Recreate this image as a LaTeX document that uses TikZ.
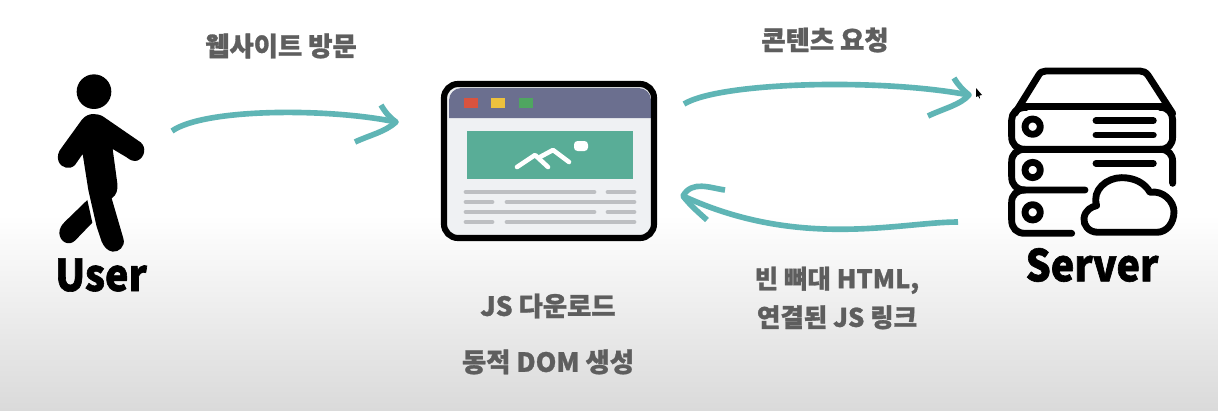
\documentclass[tikz,border=0pt]{standalone}
\usepackage{fontspec}
\setmainfont{Noto Sans CJK KR}
\newfontfamily\labelfont[BoldFeatures={FakeBold=1.1}]{Noto Sans CJK KR}
\newfontfamily\iconfont[BoldFeatures={FakeBold=1.4,FakeStretch=0.9}]{Noto Sans CJK KR}
\definecolor{flowteal}{HTML}{5FB5B5}
\definecolor{labelgrey}{HTML}{5E5E5E}
\definecolor{floorgrey}{HTML}{DADADA}
\definecolor{pagegrey}{HTML}{EFF1F3}
\definecolor{barslate}{HTML}{6B6F8F}
\definecolor{btnred}{HTML}{D9533F}
\definecolor{btnyellow}{HTML}{EDC13D}
\definecolor{btngreen}{HTML}{4FA660}
\definecolor{picgreen}{HTML}{59AD97}
\definecolor{rowgrey}{HTML}{BDBFC2}
\tikzset{
  flow/.style={draw=flowteal, line width=3.2pt, line join=round},
  step label/.style={text=labelgrey, font=\labelfont\bfseries\fontsize{15}{17}\selectfont, align=center},
  html label/.style={text=labelgrey, font=\labelfont\bfseries\fontsize{14.5}{16}\selectfont, align=center},
  icon label/.style={text=black, font=\iconfont\bfseries\fontsize{25}{28}\selectfont},
  row/.style={draw=rowgrey, line width=2.7pt, line cap=round},
  rack/.style={draw=black, line width=3.9pt, line cap=round, line join=round},
}

\begin{document}
\begin{tikzpicture}[x=0.02cm, y=-0.02cm]

            \useasboundingbox (0,0) rectangle (1218,410);
            \fill[white] (0,0) rectangle (1218,215);
            \fill[top color=white, bottom color=floorgrey] (0,215) rectangle (1218,410);

            % walking user
            \begin{scope}[shift={(30,50)}, scale=0.3333]
            \fill[black] (192,125) circle [radius=52];
            \fill[black] (190,192) .. controls (200,192) and (210,194) .. (220,200) -- (332,277)
                .. controls (350,292) and (345,322) .. (322,332) .. controls (310,335) and (300,330) .. (290,322)
                -- (248,297) -- (262,400) .. controls (264,420) and (260,435) .. (245,445)
                -- (280,565) .. controls (288,590) and (265,607) .. (248,605) .. controls (232,603) and (222,590) .. (215,575)
                -- (200,530) -- (175,420) -- (158,312) -- (135,345)
                .. controls (120,360) and (95,355) .. (86,335) .. controls (80,320) and (85,305) .. (95,293)
                -- (155,210) .. controls (165,197) and (178,192) .. (190,192) -- cycle;
            \fill[black] (172,450) -- (187,518) -- (135,572) .. controls (115,590) and (90,575) .. (88,550)
                .. controls (88,535) and (95,525) .. (105,515) -- cycle;
            \end{scope}

            % browser window
            \fill[pagegrey, rounded corners=8pt] (444,84) rectangle (654,238);
            \fill[barslate] (449,118) [rounded corners=7pt] -- (449,88) -- (651,88) [sharp corners] -- (651,118) -- cycle;
            \fill[btnred] (464,98) rectangle (478,108);
            \fill[btnyellow] (491,98) rectangle (505,108);
            \fill[btngreen] (519,98) rectangle (533,108);
            \fill[picgreen] (467,131) rectangle (633,179);
            \draw[white, line width=2.6pt, line cap=round, line join=round] (517,167) -- (535,155) -- (548,167);
            \draw[white, line width=2.6pt, line cap=round, line join=round] (540,157) -- (553,150) -- (569,162);
            \fill[white, rounded corners=2pt] (574,141) rectangle (588,151);
            \draw[row] (466,192) -- (594,192);
            \draw[row] (608,192) -- (634,192);
            \draw[row] (466,202) -- (492,202);
            \draw[row] (507,202) -- (634,202);
            \draw[row] (466,212) -- (594,212);
            \draw[row] (608,212) -- (634,212);
            \draw[row] (466,222) -- (492,222);
            \draw[row] (507,222) -- (634,222);
            \draw[black, line width=3.5pt, rounded corners=8pt] (444,84) rectangle (654,238);

            % server rack
            \begin{scope}[shift={(990,55)}, scale=0.3333]
            \draw[rack] (75,175) -- (145,62) .. controls (150,52) and (158,48) .. (168,48) -- (450,48)
                .. controls (460,48) and (468,52) .. (475,62) -- (548,175);
            \draw[rack, rounded corners=5pt] (100,155) -- (515,155);
            \draw[rack] (110,157) .. controls (80,157) and (65,175) .. (65,195) -- (65,245)
                .. controls (65,268) and (80,283) .. (105,283) -- (510,283)
                .. controls (535,283) and (548,268) .. (548,245) -- (548,195) .. controls (548,175) and (535,157) .. (510,157);
            \draw[rack] (105,283) .. controls (80,283) and (65,298) .. (65,320) -- (65,365)
                .. controls (65,390) and (80,405) .. (105,405) -- (285,405);
            \draw[rack] (510,283) .. controls (535,283) and (548,298) .. (548,320) -- (548,385);
            \draw[rack] (105,405) .. controls (80,405) and (65,420) .. (65,442) -- (65,495)
                .. controls (65,520) and (80,535) .. (105,535) -- (245,535);
            \draw[rack] (128,215) circle [radius=23];
            \draw[rack] (128,345) circle [radius=23];
            \draw[rack] (128,472) circle [radius=23];
            \draw[rack] (318,197) -- (490,197);
            \draw[rack] (318,240) -- (490,240);
            \draw[rack] (318,325) -- (490,325);
            \draw[rack] (325,532) .. controls (295,532) and (280,510) .. (282,490)
                .. controls (285,465) and (305,455) .. (320,452)
                .. controls (305,405) and (350,368) .. (395,368)
                .. controls (435,368) and (465,385) .. (480,412)
                .. controls (520,405) and (552,440) .. (552,470)
                .. controls (552,505) and (530,532) .. (500,532) -- cycle;
            \end{scope}

            % labels
            \node[step label] (visit) at (281,46) {웹사이트 방문};
            \node[step label] (request) at (825,40) {콘텐츠 요청};
            \node[html label] (skeleton) at (837,298) {빈 뼈대 HTML,\\[6pt]연결된 JS 링크};
            \node[step label] (download) at (548,306) {JS 다운로드};
            \node[step label] (render) at (548,362) {동적 DOM 생성};
            \node[icon label] (user) at (101,275) {User};
            \node[icon label] (server) at (1092,265) {Server};

            % arrows
            \coordinate (userout) at (172,131);
            \coordinate (pagein) at (396,122);
            \coordinate (pagetop) at (381,105);
            \coordinate (pagelow) at (355,142);
            \coordinate (pageout) at (684,104);
            \coordinate (serverin) at (969,95);
            \coordinate (servertop) at (954,78);
            \coordinate (serverlow) at (928,116);
            \coordinate (serverout) at (958,222);
            \coordinate (pagereturn) at (683,196);
            \coordinate (returntop) at (725,190);
            \coordinate (returnlow) at (707,220);

            \draw[flow] (userout) .. controls (205,108) and (330,108) .. (pagein);
            \draw[flow] (pagetop) .. controls (385,112) and (390,118) .. (pagein)
                .. controls (385,132) and (370,135) .. (pagelow);
            \draw[flow] (pageout) .. controls (720,82) and (880,78) .. (serverin);
            \draw[flow] (servertop) .. controls (958,85) and (963,90) .. (serverin)
                .. controls (960,105) and (945,108) .. (serverlow);
            \draw[flow] (serverout) .. controls (900,222) and (800,250) .. (pagereturn);
            \draw[flow] (returntop) .. controls (710,188) and (692,180) .. (pagereturn)
                .. controls (690,205) and (698,212) .. (returnlow);

            % pointer
            \fill[black] (976,88) -- (982,95) -- (979.5,95.5) -- (980,99) -- (978,96) -- (976,97) -- cycle;

          \end{tikzpicture}
\end{document}
